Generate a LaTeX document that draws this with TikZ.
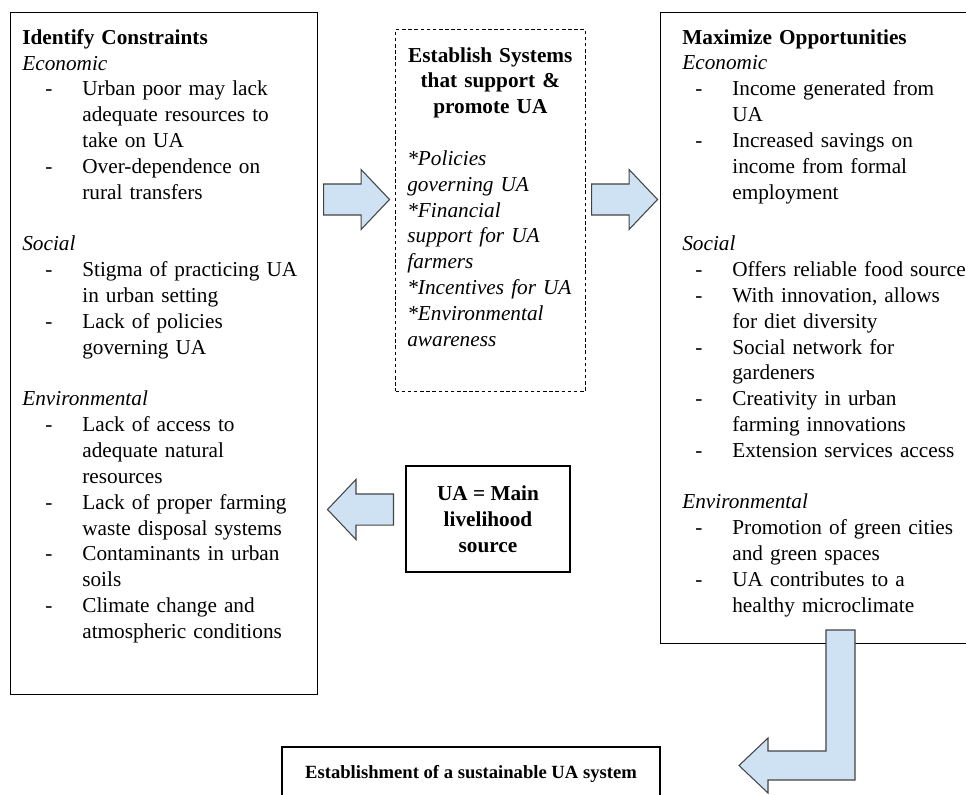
\documentclass[tikz,border=0pt]{standalone}
\usepackage{fontspec}
\setmainfont{Liberation Serif}
\usetikzlibrary{shapes.arrows}

\definecolor{arrowfill}{HTML}{CFE2F3}
\definecolor{arrowline}{HTML}{434343}

\newlength\dashin
\newlength\itemin
\newcommand{\itm}[1]{\hspace*{\dashin}\makebox[\dimexpr\itemin-\dashin\relax][l]{-}#1}
\newcommand{\more}[1]{\hspace*{\itemin}#1}
\newcommand{\midline}[1]{\makebox[\hsize][c]{\bfseries #1}}

\begin{document}
\begin{tikzpicture}[x=0.02cm, y=-0.02cm,
				font=\fontsize{12.1}{14.7}\selectfont,
				frame/.style={draw, line width=0.6pt, inner sep=0pt, anchor=north west},
				textblock/.style={inner sep=0pt, align=left, anchor=north west},
				boldbox/.style={draw, line width=1.2pt, align=center,
					font=\fontsize{12.1}{14.7}\selectfont\bfseries},
				blockarrow/.style={single arrow, draw=arrowline, fill=arrowfill, line width=0.6pt,
					inner xsep=0pt, inner ysep=0.3cm, minimum width=0pt, minimum height=1.32cm,
					single arrow head extend=0.29cm, single arrow tip angle=93, anchor=tail}]
				\useasboundingbox (0,0) rectangle (966,794);
				
				%Caixas:
				\node[frame, minimum width=6.14cm, minimum height=13.64cm] (cons) at (10,12) {};
				\node[frame, dashed, dash pattern=on 2pt off 1.5pt, minimum width=3.8cm,
					minimum height=7.24cm] (sys) at (395,29) {};
				\node[frame, minimum width=6.4cm, minimum height=12.62cm] (opp) at (660,12) {};
				\node[boldbox, minimum width=3.28cm, minimum height=2.12cm] (main) at (488,519)
					{UA = Main\\livelihood\\source};
				\node[boldbox, anchor=north, minimum width=7.56cm, minimum height=1.08cm,
					font=\fontsize{10.6}{12.8}\selectfont\bfseries] (sust)
					at (471,746) {Establishment of a sustainable UA system};
				
				%Textos:
				\node[textblock, text width=5.8cm] (consText) at (22,29) {%
					\setlength\dashin{0.46cm}\setlength\itemin{1.2cm}%
					\textbf{Identify Constraints}\\
					\textit{Economic}\\
					\itm{Urban poor may lack}\\
					\more{adequate resources to}\\
					\more{take on UA}\\
					\itm{Over-dependence on}\\
					\more{rural transfers}\\[14.7pt]
					\textit{Social}\\
					\itm{Stigma of practicing UA}\\
					\more{in urban setting}\\
					\itm{Lack of policies}\\
					\more{governing UA}\\[14.7pt]
					\textit{Environmental}\\
					\itm{Lack of access to}\\
					\more{adequate natural}\\
					\more{resources}\\
					\itm{Lack of proper farming}\\
					\more{waste disposal systems}\\
					\itm{Contaminants in urban}\\
					\more{soils}\\
					\itm{Climate change and}\\
					\more{atmospheric conditions}};
				
				\node[textblock, text width=3.32cm] (sysText) at (407,47) {%
					\midline{Establish Systems}\\
					\midline{that support \&}\\
					\midline{promote UA}\\[14.7pt]
					\itshape{*}Policies\\
					governing UA\\
					{*}Financial\\
					support for UA\\
					farmers\\
					{*}Incentives for UA\\
					{*}Environmental\\
					awareness};
				
				\node[textblock, text width=5.8cm] (oppText) at (682,29) {%
					\setlength\dashin{0.26cm}\setlength\itemin{1.0cm}%
					\textbf{Maximize Opportunities}\\
					\textit{Economic}\\
					\itm{Income generated from}\\
					\more{UA}\\
					\itm{Increased savings on}\\
					\more{income from formal}\\
					\more{employment}\\[14.7pt]
					\textit{Social}\\
					\itm{Offers reliable food source}\\
					\itm{With innovation, allows}\\
					\more{for diet diversity}\\
					\itm{Social network for}\\
					\more{gardeners}\\
					\itm{Creativity in urban}\\
					\more{farming innovations}\\
					\itm{Extension services access}\\[14.7pt]
					\textit{Environmental}\\
					\itm{Promotion of green cities}\\
					\more{and green spaces}\\
					\itm{UA contributes to a}\\
					\more{healthy microclimate}};
				
				%Setas:
				\node[blockarrow] (consToSys) at (323,199.5) {};
				\node[blockarrow] (sysToOpp) at (591,199.5) {};
				\node[blockarrow, shape border rotate=180] (mainToCons) at (394,509.5) {};
				\draw[draw=arrowline, fill=arrowfill, line width=0.6pt] (826,630) -- (855,630)
					-- (855,780) -- (768,780) -- (768,793) -- (739,765.5) -- (768,738)
					-- (768,751) -- (826,751) -- cycle;
			\end{tikzpicture}
\end{document}
